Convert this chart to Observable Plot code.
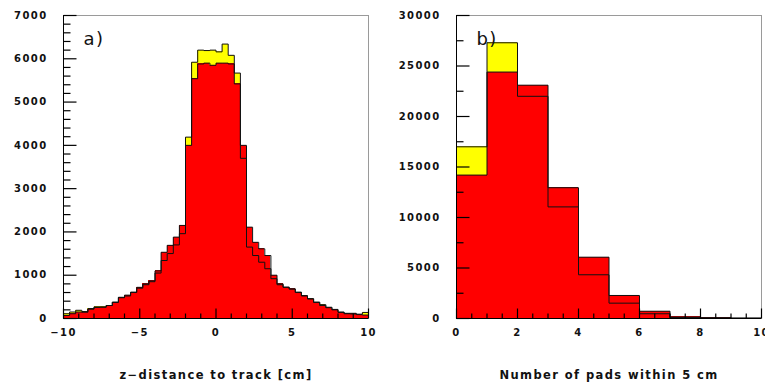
<!DOCTYPE html>
<html><head><meta charset="utf-8">
<script src="https://cdn.jsdelivr.net/npm/d3@7"></script>
<script src="https://cdn.jsdelivr.net/npm/@observablehq/plot@0.6"></script>
<style>
body{margin:0;background:#fff;}
#wrap{display:flex;width:765px;height:388px;overflow:hidden;}
#wrap svg{overflow:visible;flex:none;}
</style></head><body><div id="wrap"></div>
<script>
// ---- panel a) : z-distance to track [cm], 50 bins of 0.4 cm ----
const zBinStarts = [-10,-9.6,-9.2,-8.8,-8.4,-8,-7.6,-7.2,-6.8,-6.4,-6,-5.6,-5.2,-4.8,-4.4,-4,-3.6,-3.2,-2.8,-2.4,
  -2,-1.6,-1.2,-0.8,-0.4,0,0.4,0.8,1.2,1.6,2,2.4,2.8,3.2,3.6,4,4.4,4.8,5.2,5.6,6,6.4,6.8,7.2,7.6,8,8.4,8.8,9.2,9.6];
const zBinWidth = 0.4;
const zYellow = [110,150,190,160,230,270,270,300,380,480,520,600,700,780,850,1050,1340,1500,1700,1960,
  4190,5920,6200,6190,6200,6160,6340,6080,5670,3700,1650,1455,1300,1150,920,780,720,680,610,530,
  460,380,320,260,210,150,120,120,100,140];
const zRed = [70,110,150,145,215,255,260,300,370,490,540,610,720,800,870,1100,1530,1690,1880,2150,
  4000,5540,5880,5900,5850,5900,5900,5880,5420,4000,2110,1760,1610,1455,1000,800,725,685,600,520,
  450,370,300,250,200,140,110,105,90,80];
const zXMajor = [-10,-5,0,5,10];
const zXMinor = [-9,-8,-7,-6,-4,-3,-2,-1,1,2,3,4,6,7,8,9];
const zYMajor = [0,1000,2000,3000,4000,5000,6000,7000];
const zYMinor = [200,400,600,800,1200,1400,1600,1800,2200,2400,2600,2800,3200,3400,3600,3800,
  4200,4400,4600,4800,5200,5400,5600,5800,6200,6400,6600,6800];
const zTitle = "z\u2212distance to track [cm]";

// ---- panel b) : number of pads within 5 cm ----
const padBinStarts = [0,1,2,3,4,5,6,7,8,9];
const padBinWidth = 1;
const padYellow = [17000,27300,22000,11050,4330,1520,470,100,50,30];
const padRed = [14200,24400,23100,12950,6070,2280,720,150,80,40];
const padXMajor = [0,2,4,6,8,10];
const padXMinor = [0.5,1,1.5,2.5,3,3.5,4.5,5,5.5,6.5,7,7.5,8.5,9,9.5];
const padYMajor = [0,5000,10000,15000,20000,25000,30000];
const padYMinor = [2500,7500,12500,17500,22500,27500];
const padTitle = "Number of pads within 5 cm";

function steps(starts, w, vals) {
  const pts = [{x: starts[0], y: 0}];
  starts.forEach((s, i) => pts.push({x: s, y: vals[i]}));
  const end = starts[starts.length - 1] + w;
  pts.push({x: end, y: vals[vals.length - 1]});
  pts.push({x: end, y: 0});
  return pts;
}

function panel(o) {
  const rows = o.starts.map((s, i) => ({x0: s, x1: s + o.w, yellow: o.yellow[i], red: o.red[i]}));
  const H = 388, mt = 15, mb = 70;
  const fw = o.width - o.ml - o.mr, fh = H - mt - mb;
  const [xa, xb] = o.xDomain, [ya, yb] = o.yDomain;
  const xLen = px => xa + (xb - xa) * px / fw;
  const yLen = px => ya + (yb - ya) * px / fh;
  const yTicks = o.yMajor.map(v => ({v, a: xa, b: xLen(13)})).concat(o.yMinor.map(v => ({v, a: xa, b: xLen(7)})));
  const xTicks = o.xMajor.map(v => ({v, a: ya, b: yLen(10)})).concat(o.xMinor.map(v => ({v, a: ya, b: yLen(5)})));
  const fmt = d => d < 0 ? "\u2212" + (-d) : String(d);
  return Plot.plot({
    width: o.width, height: H,
    marginLeft: o.ml, marginRight: o.mr, marginTop: mt, marginBottom: mb,
    style: {fontFamily: "DejaVu Sans", fontSize: "10px", fontWeight: "bold", letterSpacing: "1.4px", color: "#111", background: "transparent", overflow: "visible"},
    x: {domain: o.xDomain},
    y: {domain: o.yDomain},
    marks: [
      Plot.rectY(rows, {x1: "x0", x2: "x1", y: "yellow", fill: "#ffff00", shapeRendering: "crispEdges"}),
      Plot.rectY(rows, {x1: "x0", x2: "x1", y: "red", fill: "#ff0000", shapeRendering: "crispEdges"}),
      Plot.line(steps(o.starts, o.w, o.yellow), {x: "x", y: "y", curve: "step-after", stroke: "#111", strokeWidth: 1}),
      Plot.line(steps(o.starts, o.w, o.red), {x: "x", y: "y", curve: "step-after", stroke: "#111", strokeWidth: 1}),
      Plot.frame({stroke: "#9a9a9a"}),
      Plot.ruleX([xa], {x: d => d, stroke: "#000"}),
      Plot.ruleY([ya], {y: d => d, stroke: "#000"}),
      Plot.link(yTicks, {x1: "a", x2: "b", y1: "v", y2: "v", stroke: "#000", strokeWidth: 1.2}),
      Plot.link(xTicks, {x1: "v", x2: "v", y1: "a", y2: "b", stroke: "#000", strokeWidth: 1.2}),
      Plot.axisY({ticks: o.yMajor, tickSize: 0, tickPadding: 16, label: null, tickFormat: fmt}),
      Plot.axisX({ticks: o.xMajor, tickSize: 0, tickPadding: 10, label: null, tickFormat: fmt}),
      Plot.text([o.title], {text: d => d, frameAnchor: "bottom", dy: 60, fontSize: 11.5}),
      Plot.text([o.tag], {text: d => d, frameAnchor: "top-left", dx: 20, dy: 17, textAnchor: "start", fontSize: 18, fontWeight: "normal"})
    ]
  });
}

const wrap = document.getElementById("wrap");
wrap.append(panel({
  starts: zBinStarts, w: zBinWidth, yellow: zYellow, red: zRed,
  width: 382, ml: 63, mr: 14, xDomain: [-10, 10], yDomain: [0, 7000],
  xMajor: zXMajor, xMinor: zXMinor, yMajor: zYMajor, yMinor: zYMinor,
  title: zTitle, tag: "a)"
}));
wrap.append(panel({
  starts: padBinStarts, w: padBinWidth, yellow: padYellow, red: padRed,
  width: 383, ml: 74, mr: 4, xDomain: [0, 10], yDomain: [0, 30000],
  xMajor: padXMajor, xMinor: padXMinor, yMajor: padYMajor, yMinor: padYMinor,
  title: padTitle, tag: "b)"
}));
</script>
</body></html>
